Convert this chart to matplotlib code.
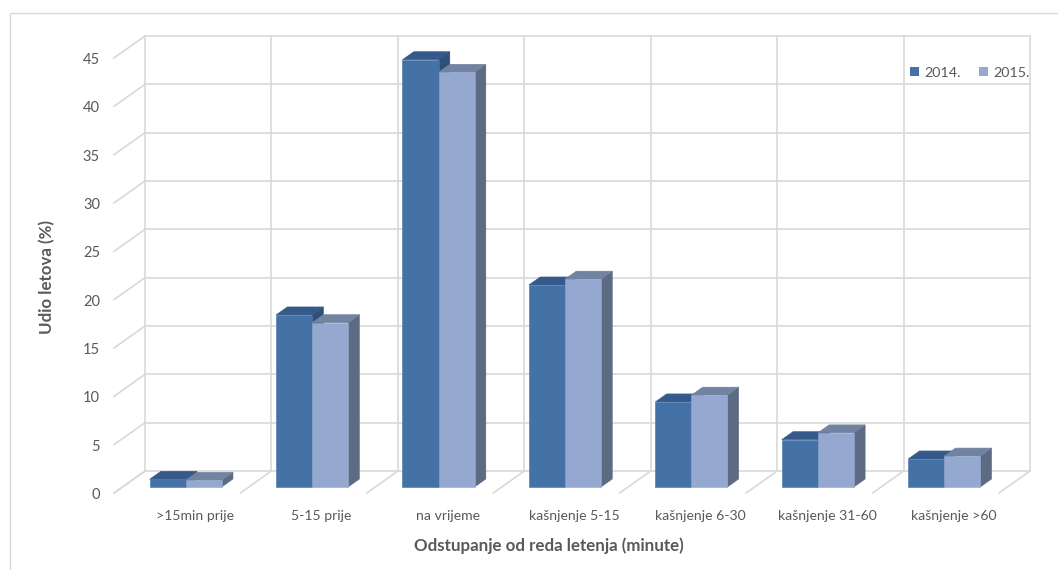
import numpy as np
import matplotlib
matplotlib.use("Agg")
import matplotlib.pyplot as plt
from matplotlib.patches import Polygon, Rectangle, Patch

# podaci
kategorije = [">15min prije", "5-15 prije", "na vrijeme", "kašnjenje 5-15",
              "kašnjenje 6-30", "kašnjenje 31-60", "kašnjenje >60"]
god_2014 = [0.8, 17.8, 44.2, 20.9, 8.8, 4.9, 2.9]
god_2015 = [0.7, 17.0, 42.9, 21.5, 9.5, 5.6, 3.2]
serije = ["2014.", "2015."]
y_ticks = list(range(0, 50, 5))

plt.rcParams["font.family"] = ["Lato", "DejaVu Sans"]

W, H = 1058, 570
PX_X = 126.43          # piksela po kategoriji
PX_Y = 9.667           # piksela po jedinici (%)
X0, Y0 = 145, 471      # ishodiste straznjeg zida

# pomak dubine (od straznjeg zida prema naprijed)
DX = -31 / PX_X
DY = -22 / PX_Y
D_FRONT, D_BACK = 16 / 22, 8 / 22
BAR_W = 0.285

GRID = "#d9d9d9"
TXT = "#595959"
boje = [
    dict(front="#4472a6", top="#34598a", side="#2f4f78"),
    dict(front="#95a9d0", top="#7282a1", side="#5c6b83"),
]

fig = plt.figure(figsize=(W / 100, H / 100), dpi=100)
ax = fig.add_axes([0, 0, 1, 1])
ax.set_xlim(-X0 / PX_X, (W - X0) / PX_X)
ax.set_ylim(-(H - Y0) / PX_Y, Y0 / PX_Y)
ax.axis("off")

n = len(kategorije)
ymax = y_ticks[-1]


def pt(x, v, d):
    return (x + d * DX, v + d * DY)


# zidovi i mreza
for v in y_ticks:
    ax.plot([0, n], [v, v], color=GRID, lw=1.2, zorder=1)
    ax.plot([0, DX], [v, v + DY], color=GRID, lw=1.2, zorder=1)
    ax.text(DX - 14 / PX_X, v + DY - 0.2, str(v), ha="right", va="center",
            fontsize=10.5, color=TXT)
for k in range(n + 1):
    ax.plot([k, k], [0, ymax], color=GRID, lw=1.2, zorder=1)
    ax.plot([k, k + DX], [0, DY], color=GRID, lw=1.2, zorder=1)

# 3D stupci
for k in range(n):
    for s, vals in enumerate([god_2014, god_2015]):
        v = vals[k]
        x1 = k + 0.5 - BAR_W + s * BAR_W
        x2 = x1 + BAR_W
        c = boje[s]
        front = [pt(x1, 0, D_FRONT), pt(x2, 0, D_FRONT), pt(x2, v, D_FRONT), pt(x1, v, D_FRONT)]
        top = [pt(x1, v, D_FRONT), pt(x2, v, D_FRONT), pt(x2, v, D_BACK), pt(x1, v, D_BACK)]
        side = [pt(x2, 0, D_FRONT), pt(x2, v, D_FRONT), pt(x2, v, D_BACK), pt(x2, 0, D_BACK)]
        z = 3 + k * 2 + s
        ax.add_patch(Polygon(side, closed=True, fc=c["side"], ec=c["side"], lw=0.4, zorder=z))
        ax.add_patch(Polygon(top, closed=True, fc=c["top"], ec=c["top"], lw=0.4, zorder=z))
        ax.add_patch(Polygon(front, closed=True, fc=c["front"], ec=c["front"], lw=0.4, zorder=z))

# oznake kategorija
for k, lab in enumerate(kategorije):
    ax.text(k + 0.5 + D_FRONT * DX + 0.075, -4.65, lab, ha="center", va="center",
            fontsize=10.1, color=TXT)

ax.text((549 - X0) / PX_X, (Y0 - 546) / PX_Y, "Odstupanje od reda letenja (minute)",
        ha="center", va="center", fontsize=12.2, fontweight="bold", color=TXT)
ax.text((47 - X0) / PX_X, (Y0 - 277) / PX_Y, "Udio letova (%)", rotation=90,
        ha="center", va="center", fontsize=12.2, fontweight="bold", color=TXT)

handles = [Patch(facecolor=boje[i]["front"], edgecolor="none", label=serije[i]) for i in range(2)]
ax.legend(handles=handles, loc="center left", bbox_to_anchor=(910 / W, 1 - 72.5 / H),
          bbox_transform=fig.transFigure, ncol=2, frameon=False, fontsize=10.3,
          handlelength=0.65, handleheight=0.65, handletextpad=0.35, columnspacing=1.25,
          borderaxespad=0, borderpad=0, labelcolor=TXT)

# okvir grafikona
fig.add_artist(Rectangle((10 / W, -0.1), 1.2, 1.1 - 13 / H, transform=fig.transFigure,
                         fill=False, ec=GRID, lw=1.0))

fig.savefig("out.png", dpi=100)
